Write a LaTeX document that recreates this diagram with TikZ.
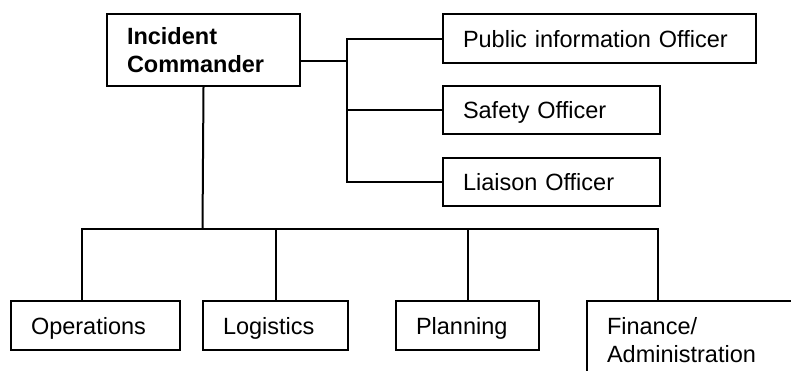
\documentclass[tikz,border=0pt]{standalone}
\usepackage{fontspec}
\setmainfont{Liberation Sans}
\usepackage{tikz}
\usetikzlibrary{calc}
\tikzset{
	box/.style={draw, line width=2pt, rectangle, anchor=north west, align=left, inner xsep=20pt, inner ysep=0pt, font=\fontsize{23.5}{28}\selectfont},
	onebox/.style={box, text height=20pt, text depth=2.4pt},
	link/.style={line width=2pt}
}

\begin{document}
\begin{tikzpicture}[x=1pt, y=-1pt]
			%%%%% START %%%%%
			\useasboundingbox (0, 0) rectangle (791, 370);
			\clip (0, 0) rectangle (791, 370);
			
			\node[box, text width=153pt, minimum height=72pt, font=\fontsize{23.5}{27.5}\selectfont\bfseries] (ic) at (106, 13) {Incident\\Commander};
			
			\node[onebox, text width=273pt, minimum height=49pt] (pio) at (442, 13) {Public information Officer};
			\node[onebox, text width=177pt, minimum height=48pt] (saf) at (442, 85) {Safety Officer};
			\node[onebox, text width=177pt, minimum height=48pt] (lia) at (442, 157) {Liaison Officer};
			
			\node[onebox, text width=129pt, minimum height=49pt] (ops) at (10, 300) {Operations};
			\node[onebox, text width=105pt, minimum height=49pt] (log) at (202, 300) {Logistics};
			\node[onebox, text width=103pt, minimum height=49pt] (plan) at (395, 300) {Planning};
			\node[box, text width=175pt, minimum height=78pt] (fin) at (586, 300) {Finance/\\Administration};
			
			\coordinate (sbus) at (347, 61);
			\coordinate (gbus) at (202.5, 229);
			
			\draw[link] (ic.east |- sbus) -- (sbus);
			\draw[link] (pio.west) -| (sbus) |- (lia.west);
			\draw[link] (saf.west) -- (saf.west -| sbus);
			
			\draw[link] (ic.south) -- (gbus);
			\draw[link] ([xshift=72pt]ops.north west) |- (gbus) -| ([xshift=72pt]fin.north west);
			\draw[link] (log.north) -- (log.north |- gbus);
			\draw[link] (plan.north) -- (plan.north |- gbus);
			%%%%% END %%%%%
		\end{tikzpicture}
\end{document}
